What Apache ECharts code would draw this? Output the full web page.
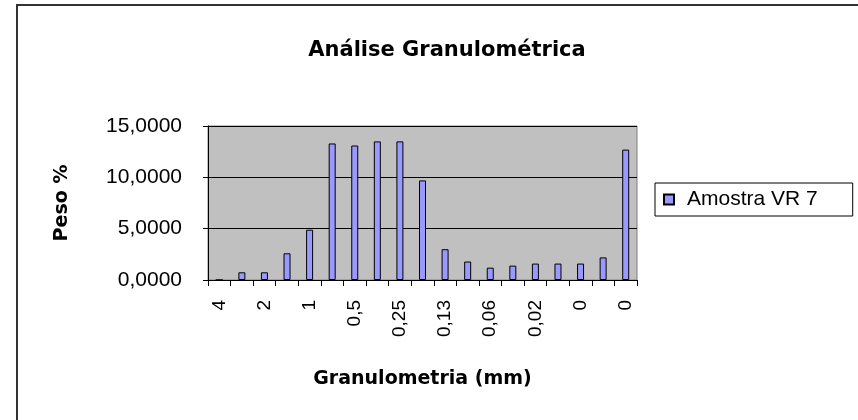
<!DOCTYPE html>
<html>
<head>
<meta charset="utf-8">
<script src="https://cdn.jsdelivr.net/npm/echarts@6/dist/echarts.min.js"></script>
<style>
  html, body { margin: 0; padding: 0; background: #fff; }
  #main { width: 858px; height: 420px; }
</style>
</head>
<body>
<div id="main"></div>
<script>
// peneiras (mm) - so as pares aparecem no eixo
const categories = ["4", "2,83", "2", "1,41", "1", "0,71", "0,5", "0,35", "0,25", "0,18",
  "0,13", "0,09", "0,06", "0,04", "0,02", "0,01", "0", "0", "0"];
// Amostra VR 7, peso %
const peso = [0, 0.75, 0.75, 2.6, 4.9, 13.3, 13.1, 13.5, 13.5, 9.7,
  3.0, 1.8, 1.2, 1.4, 1.6, 1.6, 1.6, 2.2, 12.7];
const yTicks = [0, 5, 10, 15];

var myChart = echarts.init(document.getElementById("main"));

var option = {
  animation: false,
  backgroundColor: "#fff",
  title: {
    text: "Análise Granulométrica",
    left: 442,
    top: 35,
    textAlign: "center",
    textStyle: { fontFamily: "DejaVu Sans", fontWeight: "bold", fontSize: 21, color: "#000" },
  },
  graphic: [
    {
      type: "rect",
      shape: { x: 17, y: 5, width: 900, height: 500 },
      style: { fill: null, stroke: "#333", lineWidth: 2 },
      z: -1,
    },
  ],
  legend: {
    left: 655,
    top: 183,
    orient: "vertical",
    padding: [6, 35, 6, 8],
    borderColor: "#000",
    borderWidth: 1,
    backgroundColor: "#fff",
    itemWidth: 10,
    itemHeight: 10,
    itemGap: 0,
    icon: "rect",
    textStyle: {
      fontFamily: "Liberation Sans",
      fontSize: 21,
      color: "#000",
      padding: [0, 0, 0, 8],
    },
    data: ["Amostra VR 7"],
  },
  grid: {
    left: 208,
    top: 126,
    width: 429,
    height: 154,
    show: true,
    backgroundColor: "#C0C0C0",
    borderColor: "#808080",
    borderWidth: 1,
  },
  xAxis: {
    type: "category",
    data: categories,
    boundaryGap: true,
    name: "Granulometria (mm)",
    nameLocation: "middle",
    nameGap: 90,
    nameTextStyle: { fontFamily: "DejaVu Sans", fontWeight: "bold", fontSize: 19, color: "#000" },
    axisLine: { lineStyle: { color: "#000", width: 1 } },
    axisTick: { show: true, interval: 0, length: 6, lineStyle: { color: "#000" } },
    axisLabel: {
      interval: 1,
      rotate: 90,
      margin: 20,
      fontFamily: "Liberation Sans",
      fontSize: 19,
      color: "#000",
    },
  },
  yAxis: {
    type: "value",
    min: yTicks[0],
    max: yTicks[yTicks.length - 1],
    interval: 5,
    name: "Peso %",
    nameLocation: "middle",
    nameGap: 136,
    nameTextStyle: { fontFamily: "DejaVu Sans", fontWeight: "bold", fontSize: 19, color: "#000" },
    axisLine: { show: true, lineStyle: { color: "#000", width: 1 } },
    axisTick: { show: true, length: 5, lineStyle: { color: "#000" } },
    splitLine: { lineStyle: { color: "#000", width: 1 } },
    axisLabel: {
      margin: 26,
      fontFamily: "Liberation Sans",
      fontSize: 21,
      color: "#000",
      formatter: (v) => v.toFixed(4).replace(".", ","),
    },
  },
  series: [
    {
      name: "Amostra VR 7",
      type: "bar",
      data: peso,
      barWidth: 7,
      itemStyle: { color: "#9999FF", borderColor: "#000", borderWidth: 1 },
    },
  ],
};

myChart.setOption(option);
</script>
</body>
</html>
